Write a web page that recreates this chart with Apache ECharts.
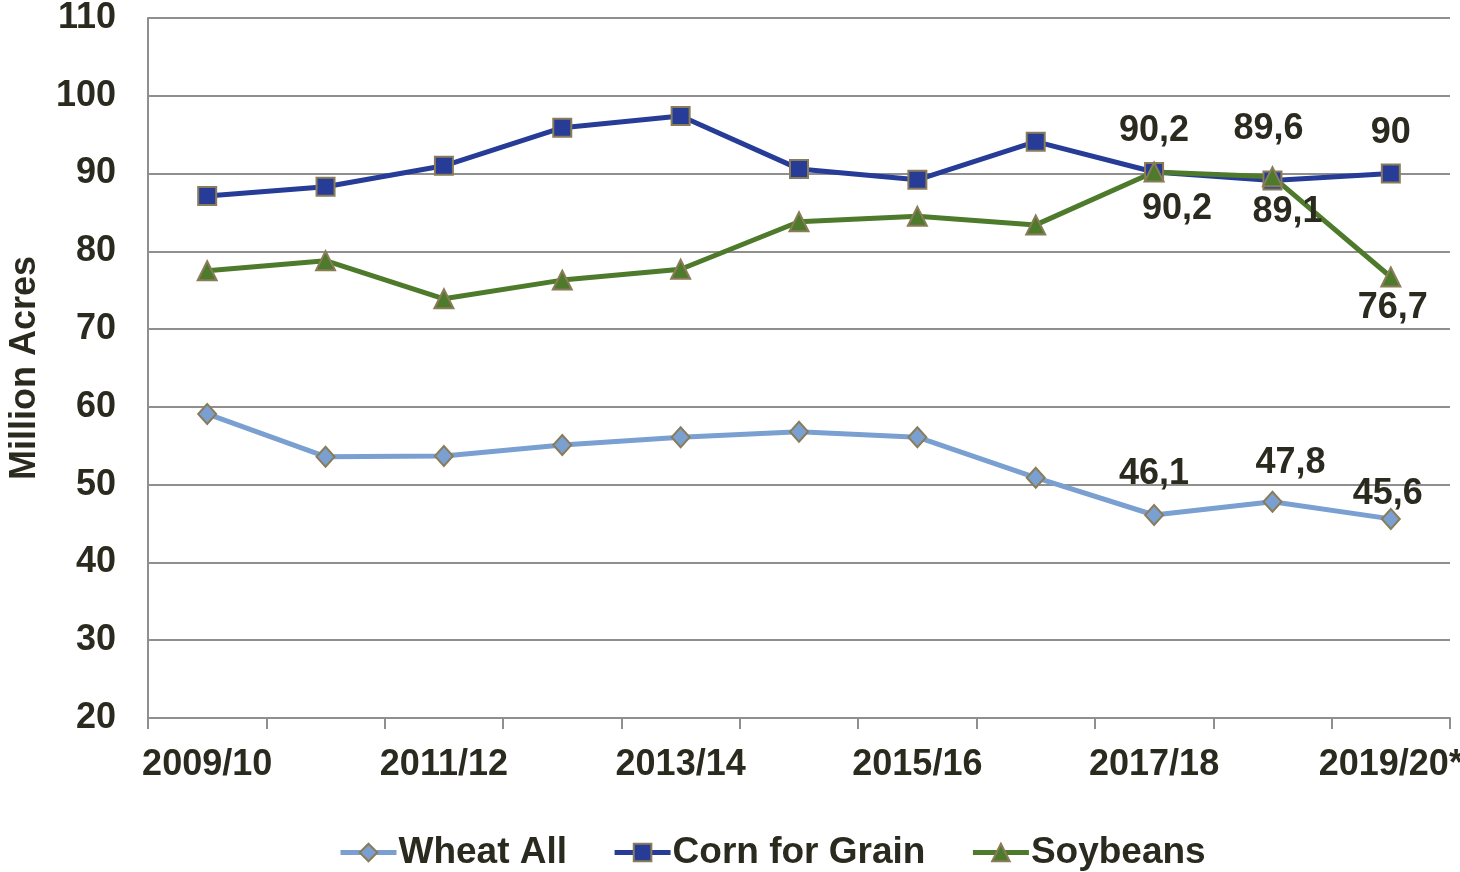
<!DOCTYPE html>
<html>
<head>
<meta charset="utf-8">
<script src="https://cdn.jsdelivr.net/npm/echarts@6/dist/echarts.min.js"></script>
<style>
  html, body { margin: 0; padding: 0; background: #fff; }
  #chart { width: 1460px; height: 872px; }
</style>
</head>
<body>
<div id="chart"></div>
<script>
  // marketing years
  var years = ['2009/10', '2010/11', '2011/12', '2012/13', '2013/14', '2014/15',
               '2015/16', '2016/17', '2017/18', '2018/19', '2019/20*'];
  // million acres
  var wheatAll = [59.1, 53.6, 53.7, 55.1, 56.1, 56.8, 56.1, 50.9, 46.1, 47.8, 45.6];
  var cornForGrain = [87.1, 88.3, 91.0, 95.9, 97.4, 90.6, 89.2, 94.1, 90.2, 89.1, 90];
  var soybeans = [77.5, 78.8, 73.9, 76.3, 77.7, 83.8, 84.5, 83.4, 90.2, 89.6, 76.7];

  // where the value labels sit (index -> position / offset)
  var wheatLabels = { 8: ['top', [0, -7]], 9: ['top', [18, -5]], 10: ['top', [-3, 9]] };
  var cornLabels = { 8: ['top', [0, -8]], 9: ['bottom', [15, -1]], 10: ['top', [0, -7]] };
  var soyLabels = { 8: ['bottom', [23, 4]], 9: ['top', [-4, -14]], 10: ['bottom', [2, -2]] };

  var txt = '#2b2a1f';
  var font = 'Liberation Sans, Arial, sans-serif';

  function withLabels(values, labels) {
    return values.map(function (v, i) {
      var l = labels[i];
      if (!l) return v;
      return {
        value: v,
        label: {
          show: true, position: l[0], offset: l[1], distance: 5,
          color: txt, fontSize: 36, fontWeight: 'bold', fontFamily: font,
          formatter: function (p) { return String(p.value).replace('.', ','); }
        }
      };
    });
  }

  var markerBorder = { borderColor: '#8a7c58', borderWidth: 2 };

  var chart = echarts.init(document.getElementById('chart'));
  var option = {
    animation: false,
    backgroundColor: '#fff',
    grid: { left: 148, right: 10, top: 18, bottom: 154, outerBoundsMode: 'none', containLabel: false },
    legend: {
      top: 829,
      left: 333,
      itemWidth: 56,
      itemHeight: 22,
      itemGap: 45,
      lineStyle: { width: 5 },
      textStyle: { color: txt, fontSize: 37, fontWeight: 'bold', fontFamily: font, padding: [0, 0, 0, -3] },
      data: ['Wheat All', 'Corn for Grain', 'Soybeans']
    },
    xAxis: {
      type: 'category',
      data: years,
      boundaryGap: true,
      axisLine: { lineStyle: { color: '#8f8f8f', width: 2 } },
      axisTick: { show: true, interval: 0, length: 11, lineStyle: { color: '#8f8f8f', width: 2 } },
      axisLabel: { interval: 1, margin: 29, color: txt, fontSize: 36, fontWeight: 'bold', fontFamily: font }
    },
    yAxis: {
      type: 'value',
      min: 20,
      max: 110,
      interval: 10,
      name: 'Million Acres',
      nameLocation: 'middle',
      nameRotate: 90,
      nameGap: 105,
      nameTextStyle: { color: txt, fontSize: 36, fontWeight: 'bold', fontFamily: font },
      axisLine: { show: true, lineStyle: { color: '#8f8f8f', width: 2 } },
      axisTick: { show: false },
      axisLabel: { margin: 32, color: txt, fontSize: 36, fontWeight: 'bold', fontFamily: font },
      splitLine: { lineStyle: { color: '#8f8f8f', width: 2 } }
    },
    series: [
      {
        name: 'Wheat All',
        type: 'line',
        data: withLabels(wheatAll, wheatLabels),
        symbol: 'diamond',
        symbolSize: [18, 20],
        lineStyle: { color: '#7a9fd1', width: 5 },
        itemStyle: Object.assign({ color: '#7a9fd1' }, markerBorder)
      },
      {
        name: 'Corn for Grain',
        type: 'line',
        data: withLabels(cornForGrain, cornLabels),
        symbol: 'rect',
        symbolSize: 18,
        lineStyle: { color: '#263c96', width: 5 },
        itemStyle: Object.assign({ color: '#263c96' }, markerBorder)
      },
      {
        name: 'Soybeans',
        type: 'line',
        data: withLabels(soybeans, soyLabels),
        symbol: 'triangle',
        symbolSize: 19,
        lineStyle: { color: '#4e7a2b', width: 5 },
        itemStyle: Object.assign({ color: '#4e7a2b' }, markerBorder)
      }
    ]
  };
  chart.setOption(option);
</script>
</body>
</html>
